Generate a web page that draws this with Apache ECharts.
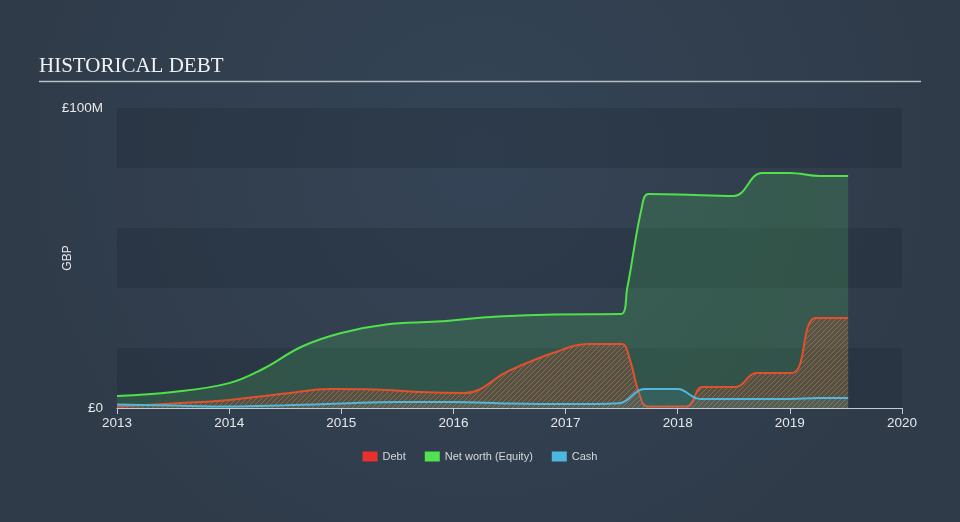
<!DOCTYPE html>
<html><head><meta charset="utf-8">
<script src="https://cdn.jsdelivr.net/npm/echarts@6/dist/echarts.min.js"></script>
<style>html,body{margin:0;padding:0;background:#313e4d}#c{width:960px;height:522px}</style>
</head><body><div id="c"></div>
<script>
const xTicks = [2013, 2014, 2015, 2016, 2017, 2018, 2019, 2020];
const netWorth = [[2013.0,4],[2013.5,5.3],[2014.0,8.3],[2014.3,13],[2014.65,20.5],[2015.0,25],[2015.4,27.8],[2015.85,28.8],[2016.4,30.5],[2016.9,31.2],[2017.49,31.3],[2017.55,40],[2017.675,66],[2017.74,71.3],[2018.0,71.2],[2018.5,70.7],[2018.75,78.3],[2019.0,78.3],[2019.27,77.3],[2019.52,77.3]];
const debt = [[2013,0.5],[2013.5,1.5],[2014,2.7],[2014.5,4.8],[2014.9,6.3],[2015.3,6.2],[2015.7,5.3],[2016.1,5],[2016.5,12.5],[2016.9,18.5],[2017.2,21.3],[2017.5,21.3],[2017.57,16.5],[2017.655,5],[2017.73,0.5],[2018.08,0.5],[2018.22,7],[2018.52,7],[2018.7,11.7],[2019.02,11.7],[2019.23,30],[2019.52,30]];
const cash = [[2013,1.2],[2013.5,0.8],[2014,0.5],[2014.5,0.9],[2015,1.5],[2015.5,2],[2016,2],[2016.5,1.5],[2017,1.3],[2017.48,1.6],[2017.7,6.3],[2018.0,6.3],[2018.2,3],[2019,3],[2019.25,3.3],[2019.52,3.3]];
const yLabels = {0: '£0', 100: '£100M'};

const hatch = document.createElement('canvas');
hatch.width = 5; hatch.height = 5;
const hc = hatch.getContext('2d');
hc.fillStyle = 'rgba(150,85,60,0.45)';
hc.fillRect(0,0,5,5);
hc.strokeStyle = 'rgba(225,115,80,0.8)';
hc.lineWidth = 1;
hc.beginPath();
hc.moveTo(0,5); hc.lineTo(5,0);
hc.moveTo(-2.5,2.5); hc.lineTo(2.5,-2.5);
hc.moveTo(2.5,7.5); hc.lineTo(7.5,2.5);
hc.stroke();

const chart = echarts.init(document.getElementById('c'));
chart.setOption({
  backgroundColor: {type:'radial', x:0.5, y:0.3, r:0.9, colorStops:[{offset:0,color:'#344456'},{offset:1,color:'#2f3b49'}]},
  animation: false,
  title: {text:'HISTORICAL DEBT', left:39, top:56, padding:0, textStyle:{fontFamily:'Liberation Serif', fontWeight:'normal', fontSize:21, color:'#f0f2f4'}},
  graphic: [{type:'line', shape:{x1:39,y1:81.5,x2:921,y2:81.5}, style:{stroke:'#b8bec6', lineWidth:1.5}}],
  grid: {left:117, right:58, top:108, bottom:114},
  legend: {bottom:55, left:'center', icon:'rect', itemWidth:15, itemHeight:10, itemGap:19,
    textStyle:{color:'#d3d8de', fontSize:11, fontFamily:'Liberation Sans'},
    data:['Debt','Net worth (Equity)','Cash']},
  xAxis: {type:'value', min:2013, max:2020, interval:1,
    axisLine:{lineStyle:{color:'#c5cbd2', width:1}},
    axisTick:{length:6, lineStyle:{color:'#c5cbd2'}},
    axisLabel:{color:'#e4e7eb', fontSize:13.5, fontFamily:'Liberation Sans', margin:8, formatter: v => xTicks.includes(v) ? String(v) : ''},
    splitLine:{show:false}},
  yAxis: {type:'value', min:0, max:100, interval:20, name:'GBP', nameLocation:'middle', nameGap:43, nameMoveOverlap:false,
    nameTextStyle:{color:'#e4e7eb', fontSize:12, fontFamily:'Liberation Sans'},
    axisLine:{show:false}, axisTick:{show:false},
    axisLabel:{color:'#e4e7eb', fontSize:13.5, fontFamily:'Liberation Sans', margin:14, formatter: v => yLabels[v] || ''},
    splitLine:{show:false},
    splitArea:{show:true, areaStyle:{color:['rgba(30,40,52,0.3)','rgba(60,75,92,0.06)']}}},
  series: [
    {name:'Net worth (Equity)', type:'line', data:netWorth, smooth:0.4, showSymbol:false, z:2,
      itemStyle:{color:'#4fe34f'}, lineStyle:{color:'#4fe04a', width:2},
      areaStyle:{color:'rgba(74,190,90,0.32)'}},
    {name:'Debt', type:'line', data:debt, smooth:0.4, showSymbol:false, z:3,
      itemStyle:{color:'#e8302e'}, lineStyle:{color:'#e2512e', width:2},
      areaStyle:{color:{image:hatch, repeat:'repeat'}}},
    {name:'Cash', type:'line', data:cash, smooth:0.4, showSymbol:false, z:4,
      itemStyle:{color:'#4cb8e0'}, lineStyle:{color:'#4fb8dc', width:2},
      areaStyle:{color:'rgba(76,184,224,0.18)'}}
  ]
});
</script></body></html>
